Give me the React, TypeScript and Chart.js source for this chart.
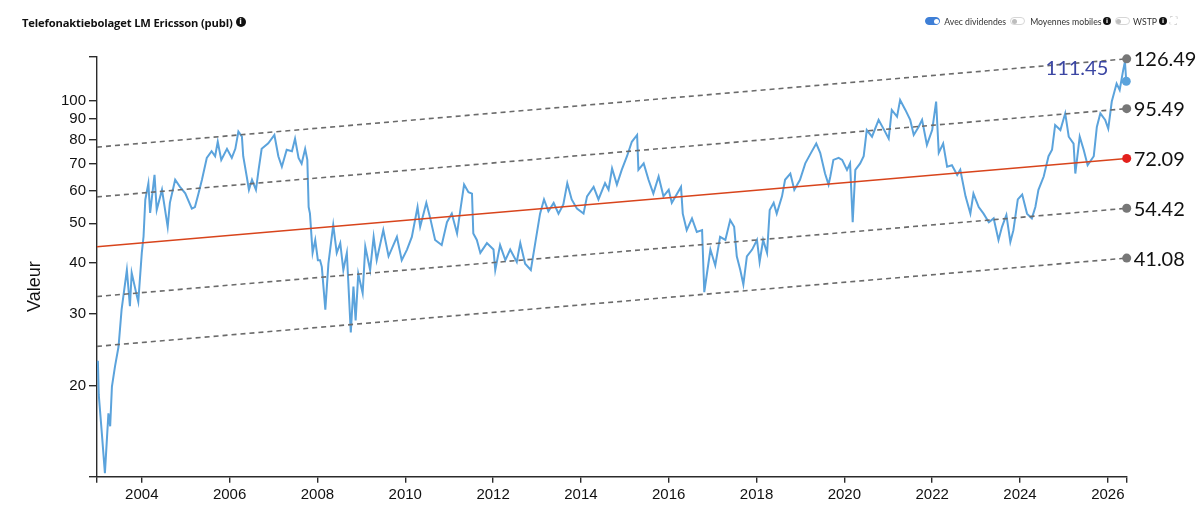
import React, { useEffect, useRef } from "react";
import { Chart, registerables } from "chart.js";

Chart.register(...registerables);

// ---- data ----
const xDomain = [2002.98, 2026.43];
const yDomain = [11.96, 127.8];
const yearTicks = [2004, 2006, 2008, 2010, 2012, 2014, 2016, 2018, 2020, 2022, 2024, 2026];
const valueTicks = [20, 30, 40, 50, 60, 70, 80, 90, 100];

// regression channel (log-linear): values at start and end of the period
const bandStartValues = [76.85, 58.02, 43.8, 33.07, 24.96];
const bandEndValues = [126.49, 95.49, 72.09, 54.42, 41.08];
const lastPriceLabel = 111.45;

const priceYears = [
  2003.0, 2003.02, 2003.09, 2003.16, 2003.24, 2003.28, 2003.32, 2003.39, 2003.47, 2003.54,
  2003.66, 2003.73, 2003.77, 2003.89, 2003.92, 2004.0, 2004.04, 2004.08, 2004.15, 2004.19,
  2004.29, 2004.34, 2004.46, 2004.59, 2004.64, 2004.76, 2004.87, 2004.99, 2005.14, 2005.21,
  2005.29, 2005.37, 2005.48, 2005.59, 2005.67, 2005.73, 2005.81, 2005.94, 2006.05, 2006.13,
  2006.2, 2006.28, 2006.31, 2006.39, 2006.44, 2006.51, 2006.6, 2006.66, 2006.73, 2006.88,
  2007.02, 2007.11, 2007.19, 2007.3, 2007.42, 2007.49, 2007.57, 2007.64, 2007.72, 2007.77,
  2007.8, 2007.83, 2007.89, 2007.95, 2008.01, 2008.06, 2008.1, 2008.18, 2008.25, 2008.36,
  2008.44, 2008.52, 2008.59, 2008.67, 2008.76, 2008.82, 2008.87, 2008.93, 2009.03, 2009.09,
  2009.2, 2009.28, 2009.35, 2009.5, 2009.62, 2009.81, 2009.92, 2010.04, 2010.15, 2010.28,
  2010.34, 2010.48, 2010.57, 2010.68, 2010.83, 2010.95, 2011.06, 2011.18, 2011.25, 2011.34,
  2011.44, 2011.52, 2011.55, 2011.63, 2011.71, 2011.86, 2012.01, 2012.05, 2012.16, 2012.28,
  2012.39, 2012.54, 2012.62, 2012.73, 2012.86, 2012.96, 2013.07, 2013.16, 2013.26, 2013.38,
  2013.49, 2013.6, 2013.69, 2013.79, 2013.91, 2014.06, 2014.14, 2014.29, 2014.4, 2014.55,
  2014.63, 2014.71, 2014.82, 2014.93, 2015.05, 2015.16, 2015.28, 2015.31, 2015.43, 2015.54,
  2015.65, 2015.77, 2015.88, 2016.0, 2016.07, 2016.19, 2016.28, 2016.32, 2016.41, 2016.53,
  2016.64, 2016.76, 2016.81, 2016.87, 2016.95, 2017.06, 2017.17, 2017.29, 2017.4, 2017.49,
  2017.55, 2017.63, 2017.7, 2017.78, 2017.9, 2018.01, 2018.07, 2018.15, 2018.24, 2018.3,
  2018.39, 2018.46, 2018.58, 2018.65, 2018.77, 2018.86, 2018.99, 2019.11, 2019.24, 2019.36,
  2019.45, 2019.56, 2019.64, 2019.68, 2019.75, 2019.87, 2019.95, 2020.06, 2020.13, 2020.19,
  2020.25, 2020.36, 2020.44, 2020.51, 2020.63, 2020.78, 2020.89, 2021.01, 2021.08, 2021.2,
  2021.27, 2021.39, 2021.5, 2021.58, 2021.69, 2021.77, 2021.88, 2022.0, 2022.09, 2022.15,
  2022.25, 2022.34, 2022.45, 2022.57, 2022.64, 2022.76, 2022.87, 2022.94, 2023.06, 2023.17,
  2023.29, 2023.4, 2023.51, 2023.59, 2023.69, 2023.78, 2023.85, 2023.95, 2024.05, 2024.16,
  2024.27, 2024.35, 2024.42, 2024.54, 2024.65, 2024.73, 2024.8, 2024.92, 2025.03, 2025.11,
  2025.22, 2025.26, 2025.36, 2025.45, 2025.54, 2025.68, 2025.75, 2025.83, 2025.94, 2026.01,
  2026.09, 2026.2, 2026.27, 2026.35, 2026.39, 2026.42,
];

const priceValues = [
  23.0, 19.0, 15.3, 12.2, 17.1, 15.9, 19.9, 22.3, 24.9, 30.7,
  38.4, 31.3, 37.8, 33.1, 32.1, 42.3, 46.4, 57.1, 62.6, 53.0,
  65.7, 53.9, 60.4, 49.0, 56.1, 63.9, 61.4, 59.2, 54.3, 54.8,
  59.1, 63.9, 72.3, 75.1, 73.0, 79.2, 71.5, 76.1, 72.3, 76.1,
  83.9, 81.5, 73.0, 65.1, 60.4, 63.9, 60.4, 67.6, 76.1, 78.5,
  82.3, 73.0, 68.8, 75.7, 75.1, 80.6, 72.3, 70.0, 76.1, 71.5,
  54.8, 52.8, 42.3, 45.5, 40.6, 40.6, 39.1, 30.7, 39.8, 49.5,
  42.3, 44.7, 38.4, 42.3, 27.0, 35.0, 28.9, 37.6, 33.7, 43.8,
  38.4, 46.3, 40.6, 48.1, 41.5, 46.3, 40.6, 43.1, 46.3, 54.8,
  49.0, 56.1, 51.4, 45.5, 44.2, 50.3, 52.8, 47.2, 53.5, 62.2,
  59.6, 59.1, 47.2, 45.5, 42.3, 44.7, 43.1, 38.4, 44.2, 40.6,
  43.1, 40.2, 44.7, 39.8, 38.4, 44.7, 52.8, 57.2, 53.5, 56.1,
  52.8, 55.6, 62.7, 57.2, 54.3, 52.8, 58.2, 61.4, 57.2, 62.7,
  60.4, 68.1, 62.2, 67.6, 73.0, 79.2, 82.3, 67.6, 70.1, 63.9,
  59.1, 65.1, 58.2, 60.4, 56.1, 59.1, 61.4, 52.8, 48.1, 51.4,
  47.6, 48.1, 33.9, 37.6, 43.1, 39.4, 46.3, 45.5, 50.9, 49.0,
  41.5, 38.4, 35.4, 41.5, 43.1, 45.5, 40.2, 45.5, 42.3, 53.9,
  56.1, 52.8, 58.2, 63.9, 66.2, 60.4, 63.9, 70.1, 74.4, 78.4,
  74.4, 66.2, 62.2, 65.1, 71.5, 72.3, 71.5, 67.6, 70.1, 50.3,
  67.6, 70.1, 73.0, 84.6, 81.5, 89.6, 85.3, 80.6, 94.8, 91.3,
  100.3, 94.8, 89.6, 82.3, 86.1, 89.6, 77.8, 84.6, 99.4, 74.4,
  78.4, 68.8, 69.4, 65.7, 67.6, 58.2, 52.8, 59.1, 54.8, 52.8,
  50.3, 51.4, 45.5, 49.0, 52.4, 45.0, 48.1, 57.2, 58.8, 52.8,
  51.4, 54.8, 60.4, 65.1, 73.0, 75.7, 87.0, 84.6, 93.0, 81.5,
  78.4, 66.2, 81.5, 75.7, 69.4, 73.0, 86.1, 93.0, 89.6, 85.3,
  99.4, 110.0, 106.1, 118.7, 124.5, 111.45,
];

// ---- styles ----
const BLUE = "#5ba3dc";
const RED = "#d8441c";
const GRAY = "#6b6b6b";
const AXIS = "#2b2b2b";
const TICK_FONT = { family: "'Liberation Sans', Arial, sans-serif", size: 15 };

const endLabelsPlugin = {
  id: "endLabels",
  afterDatasetsDraw(chart: any) {
    const ctx = chart.ctx as CanvasRenderingContext2D;
    ctx.save();
    ctx.font = "20px Lato";
    ctx.textBaseline = "middle";
    ctx.textAlign = "left";
    ctx.fillStyle = "#111";
    bandEndValues.forEach((v, i) => {
      const meta = chart.getDatasetMeta(i);
      const pt = meta.data[meta.data.length - 1];
      ctx.fillText(v.toFixed(2), pt.x + 7, pt.y + 1);
    });
    const pm = chart.getDatasetMeta(bandEndValues.length);
    const lp = pm.data[pm.data.length - 1];
    ctx.fillStyle = "#3b46a3";
    ctx.textAlign = "right";
    ctx.fillText(lastPriceLabel.toFixed(2), lp.x - 18, lp.y - 13);

    // y axis title
    const area = chart.chartArea;
    ctx.translate(35, area.top + (area.bottom - area.top) * 0.547);
    ctx.rotate(-Math.PI / 2);
    ctx.font = "18px 'Liberation Sans', Arial, sans-serif";
    ctx.textAlign = "center";
    ctx.fillStyle = "#111";
    ctx.fillText("Valeur", 0, 0);
    ctx.restore();
  },
};

function InfoIcon({ size, ml }: { size: number; ml: number }) {
  return (
    <span
      style={{
        display: "inline-block",
        marginLeft: ml,
        width: size,
        height: size,
        borderRadius: "50%",
        background: "#111",
        color: "#fff",
        fontSize: size * 0.75,
        lineHeight: size + "px",
        textAlign: "center",
        fontWeight: 700,
        fontFamily: "'DejaVu Sans', sans-serif",
        flex: "none",
      }}
    >
      i
    </span>
  );
}

function Toggle({ on, ml }: { on: boolean; ml: number }) {
  return (
    <span
      style={{
        position: "relative",
        display: "inline-block",
        marginLeft: ml,
        width: 15,
        height: 8,
        borderRadius: 4,
        background: on ? "#3f7fd6" : "#fff",
        border: on ? "1px solid #3f7fd6" : "1px solid #d6d6d6",
        boxSizing: "border-box",
        flex: "none",
      }}
    >
      <span
        style={{
          position: "absolute",
          top: 0.5,
          left: on ? 7.5 : 0.5,
          width: 5,
          height: 5,
          borderRadius: "50%",
          background: on ? "#fff" : "#bdbdbd",
        }}
      />
    </span>
  );
}

const labelStyle: React.CSSProperties = {
  fontFamily: "Lato, sans-serif",
  fontSize: 8.7,
  color: "#333",
  whiteSpace: "nowrap",
};

export default function App() {
  const ref = useRef<HTMLCanvasElement | null>(null);

  useEffect(() => {
    const canvas = ref.current;
    if (!canvas) return;

    const bandDatasets = bandEndValues.map((end, i) => ({
      label: "band" + i,
      data: [
        { x: xDomain[0], y: bandStartValues[i] },
        { x: xDomain[1], y: end },
      ],
      borderColor: i === 2 ? RED : GRAY,
      borderWidth: 1.6,
      borderDash: i === 2 ? [] : [5, 4],
      pointRadius: (c: any) => (c.dataIndex === 1 ? 4.5 : 0),
      pointBackgroundColor: i === 2 ? "#e3201c" : "#777",
      pointBorderWidth: 0,
      clip: false as any,
      tension: 0,
    }));

    const priceData = priceYears.map((x, i) => ({ x, y: priceValues[i] }));

    const chart = new Chart(canvas, {
      type: "line",
      data: {
        datasets: [
          ...bandDatasets,
          {
            label: "price",
            data: priceData,
            borderColor: BLUE,
            borderWidth: 2,
            pointRadius: (c: any) => (c.dataIndex === priceData.length - 1 ? 4.5 : 0),
            pointBackgroundColor: BLUE,
            pointBorderWidth: 0,
            clip: false as any,
            tension: 0,
          },
        ] as any,
      },
      options: {
        animation: false,
        responsive: false,
        events: [],
        layout: { padding: { left: 0, right: 73.3, top: 57, bottom: 0 } },
        plugins: { legend: { display: false }, tooltip: { enabled: false } },
        scales: {
          x: {
            type: "linear",
            min: xDomain[0],
            max: xDomain[1],
            afterBuildTicks: (scale: any) => {
              scale.ticks = [xDomain[0], ...yearTicks, xDomain[1]].map((v) => ({ value: v }));
            },
            afterFit: (scale: any) => {
              scale.height = 30.3;
            },
            ticks: {
              autoSkip: false,
              maxRotation: 0,
              padding: 3,
              color: "#111",
              font: TICK_FONT,
              callback: (v: any) => (yearTicks.includes(v) ? String(v) : ""),
            },
            grid: {
              drawOnChartArea: false,
              drawTicks: true,
              tickLength: 6,
              color: AXIS,
              lineWidth: 1.4,
            },
            border: { display: true, color: AXIS, width: 1.4 },
          },
          y: {
            type: "logarithmic",
            min: yDomain[0],
            max: yDomain[1],
            afterBuildTicks: (scale: any) => {
              scale.ticks = [yDomain[0], ...valueTicks, yDomain[1]].map((v) => ({ value: v }));
            },
            afterFit: (scale: any) => {
              scale.width = 97;
            },
            ticks: {
              autoSkip: false,
              padding: 3,
              color: "#111",
              font: TICK_FONT,
              callback: (v: any) => (valueTicks.includes(v) ? String(v) : ""),
            },
            grid: {
              drawOnChartArea: false,
              drawTicks: true,
              tickLength: 8,
              color: AXIS,
              lineWidth: 1.4,
            },
            border: { display: true, color: AXIS, width: 1.4 },
          },
        },
      } as any,
      plugins: [endLabelsPlugin],
    });

    return () => chart.destroy();
  }, []);

  return (
    <div
      style={{
        position: "absolute",
        left: 0,
        top: 0,
        width: 1200,
        height: 507,
        background: "#fff",
        overflow: "hidden",
      }}
    >
      <canvas ref={ref} width={1200} height={507} style={{ position: "absolute", left: 0, top: 0 }} />
      <div
        style={{
          position: "absolute",
          left: 22,
          top: 13,
          height: 18,
          display: "flex",
          alignItems: "center",
          fontFamily: "'Open Sans', sans-serif",
          fontWeight: 700,
          fontSize: 11.2,
          color: "#111",
          whiteSpace: "nowrap",
          letterSpacing: -0.15,
        }}
      >
        <span>Telefonaktiebolaget LM Ericsson (publ)</span>
        <InfoIcon size={10} ml={3} />
      </div>

      <div
        style={{
          position: "absolute",
          right: 23,
          top: 13,
          height: 16,
          display: "flex",
          alignItems: "center",
        }}
      >
        <Toggle on={true} ml={0} />
        <span style={{ ...labelStyle, marginLeft: 4 }}>Avec dividendes</span>
        <Toggle on={false} ml={4} />
        <span style={{ ...labelStyle, marginLeft: 5 }}>Moyennes mobiles</span>
        <InfoIcon size={8} ml={1.5} />
        <Toggle on={false} ml={4} />
        <span style={{ ...labelStyle, marginLeft: 3 }}>WSTP</span>
        <InfoIcon size={8} ml={2} />
        <span
          style={{
            marginLeft: 3,
            fontSize: 10,
            lineHeight: "10px",
            color: "#c8c8c8",
            fontFamily: "'DejaVu Sans', sans-serif",
          }}
        >
          ⛶
        </span>
      </div>
    </div>
  );
}
